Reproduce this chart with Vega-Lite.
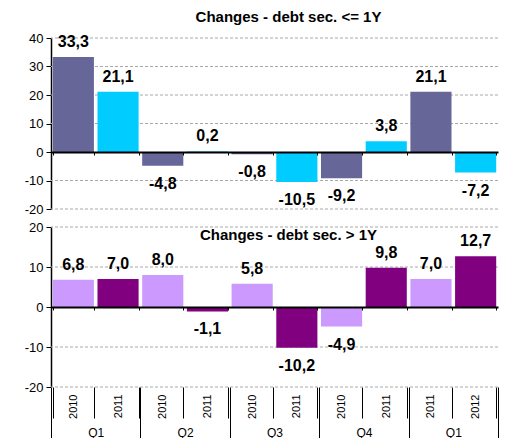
{
 "$schema": "https://vega.github.io/schema/vega-lite/v6.json",
 "background": "white",
 "padding": {"left": 24, "top": 10, "right": 14, "bottom": 0},
 "config": {
   "locale": {"number": {"decimal": ",", "thousands": ".", "grouping": [3], "currency": ["", ""], "minus": "-"}},
   "view": {"stroke": null},
   "font": "Liberation Sans",
   "axis": {"labelFont": "Liberation Sans", "labelColor": "#000", "labelFontSize": 13, "tickColor": "#000", "domainColor": "#000", "titleFont": "Liberation Sans"},
   "title": {"font": "Liberation Sans", "fontSize": 15, "fontWeight": "bold", "color": "#000"}
 },
 "datasets": {
  "d": [
   {"key": "2010-1", "q": "Q1 10/11", "series": "a", "le1y": 33.3, "gt1y": 6.8},
   {"key": "2011-1", "q": "Q1 10/11", "series": "b", "le1y": 21.1, "gt1y": 7.0},
   {"key": "2010-2", "q": "Q2 10/11", "series": "a", "le1y": -4.8, "gt1y": 8.0},
   {"key": "2011-2", "q": "Q2 10/11", "series": "b", "le1y": 0.2, "gt1y": -1.1},
   {"key": "2010-3", "q": "Q3 10/11", "series": "a", "le1y": -0.8, "gt1y": 5.8},
   {"key": "2011-3", "q": "Q3 10/11", "series": "b", "le1y": -10.5, "gt1y": -10.2},
   {"key": "2010-4", "q": "Q4 10/11", "series": "a", "le1y": -9.2, "gt1y": -4.9},
   {"key": "2011-4", "q": "Q4 10/11", "series": "b", "le1y": 3.8, "gt1y": 9.8},
   {"key": "2011-5", "q": "Q1 11/12", "series": "a", "le1y": 21.1, "gt1y": 7.0},
   {"key": "2012-5", "q": "Q1 11/12", "series": "b", "le1y": -7.2, "gt1y": 12.7}
  ],
  "g1": [{"v": -20}, {"v": -10}, {"v": 10}, {"v": 20}, {"v": 30}, {"v": 40}],
  "g2": [{"v": -20}, {"v": -10}, {"v": 10}, {"v": 20}]
 },
 "data": {"name": "d"},
 "spacing": 18,
 "bounds": "flush",
 "resolve": {"scale": {"x": "independent", "y": "independent", "color": "independent"}},
 "vconcat": [
  {
   "width": 447, "height": 171,
   "title": {"text": "Changes - debt sec. <= 1Y", "frame": "group", "baseline": "alphabetic", "offset": -5, "dx": 14},
   "layer": [
    {"data": {"name": "g1"},
     "mark": {"type": "rule", "color": "#a8a8a8", "strokeDash": [3, 2], "strokeWidth": 1},
     "encoding": {"y": {"field": "v", "type": "quantitative", "scale": {"domain": [-20, 40], "nice": false},
            "axis": {"values": [-20,-10,0,10,20,30,40], "title": null, "grid": false, "domainWidth": 1.5, "tickSize": 5, "labelPadding": 3}}}},
    {"encoding": {
      "x": {"field": "key", "type": "nominal", "sort": null,
            "scale": {"domain": ["2010-1","2011-1","2010-2","2011-2","2010-3","2011-3","2010-4","2011-4","2011-5","2012-5"], "paddingInner": 0.08, "paddingOuter": 0.04},
            "axis": {"orient": "bottom", "offset": -57, "labels": false, "title": null, "domainWidth": 2, "tickBand": "extent", "tickSize": 3, "grid": false, "zindex": 1}},
      "y": {"field": "le1y", "type": "quantitative", "scale": {"domain": [-20, 40], "nice": false},
            "axis": {"values": [-20,-10,0,10,20,30,40], "title": null, "grid": false, "domainWidth": 1.5, "tickSize": 5, "labelPadding": 3}}
     },
     "layer": [
      {"mark": {"type": "bar"}, "encoding": {
        "color": {"field": "series", "type": "nominal", "scale": {"domain": ["a","b"], "range": ["#666699","#00CCFF"]}, "legend": null}
      }},
      {"transform": [{"filter": "datum.le1y >= 0"}],
       "mark": {"type": "text", "fontWeight": "bold", "fontSize": 16, "baseline": "alphabetic", "dy": -10, "color": "#000"},
       "encoding": {"text": {"field": "le1y", "type": "quantitative", "format": ".1f"}}},
      {"transform": [{"filter": "datum.le1y < 0"}],
       "mark": {"type": "text", "fontWeight": "bold", "fontSize": 16, "baseline": "alphabetic", "dy": 23, "color": "#000"},
       "encoding": {"text": {"field": "le1y", "type": "quantitative", "format": ".1f"}}}
     ]
    }
   ]
  },
  {
   "width": 447, "height": 160,
   "title": {"text": "Changes - debt sec. > 1Y", "frame": "group", "baseline": "alphabetic", "offset": -34, "dx": 14},
   "resolve": {"scale": {"x": "independent"}, "axis": {"x": "independent"}},
   "layer": [
    {"data": {"name": "g2"},
     "mark": {"type": "rule", "color": "#a8a8a8", "strokeDash": [3, 2], "strokeWidth": 1},
     "encoding": {"y": {"field": "v", "type": "quantitative", "scale": {"domain": [-20, 20], "nice": false},
            "axis": {"values": [-20,-10,0,10,20], "title": null, "grid": false, "domainWidth": 1.5, "tickSize": 5, "labelPadding": 3}}}},
    {"encoding": {
       "x": {"field": "key", "type": "nominal", "sort": null,
             "scale": {"domain": ["2010-1","2011-1","2010-2","2011-2","2010-3","2011-3","2010-4","2011-4","2011-5","2012-5"], "paddingInner": 0.08, "paddingOuter": 0.04},
             "axis": {"orient": "bottom", "offset": -80, "labels": false, "title": null, "domainWidth": 2, "tickBand": "extent", "tickSize": 3, "grid": false, "zindex": 1}},
       "y": {"field": "gt1y", "type": "quantitative", "scale": {"domain": [-20, 20], "nice": false},
            "axis": {"values": [-20,-10,0,10,20], "title": null, "grid": false, "domainWidth": 1.5, "tickSize": 5, "labelPadding": 3}}
     },
     "layer": [
      {"mark": {"type": "bar"}, "encoding": {
        "color": {"field": "series", "type": "nominal", "scale": {"domain": ["a","b"], "range": ["#CC99FF","#800080"]}, "legend": null}
      }},
      {"transform": [{"filter": "datum.gt1y >= 0"}],
       "mark": {"type": "text", "fontWeight": "bold", "fontSize": 16, "baseline": "alphabetic", "dy": -10, "color": "#000"},
       "encoding": {"text": {"field": "gt1y", "type": "quantitative", "format": ".1f"}}},
      {"transform": [{"filter": "datum.gt1y < 0"}],
       "mark": {"type": "text", "fontWeight": "bold", "fontSize": 16, "baseline": "alphabetic", "dy": 23, "color": "#000"},
       "encoding": {"text": {"field": "gt1y", "type": "quantitative", "format": ".1f"}}}
     ]
    },
    {"mark": {"type": "point", "opacity": 0}, "encoding": {
      "x": {"field": "key", "type": "nominal", "sort": null,
            "scale": {"domain": ["2010-1","2011-1","2010-2","2011-2","2010-3","2011-3","2010-4","2011-4","2011-5","2012-5"], "paddingInner": 0.08, "paddingOuter": 0.04},
            "axis": {"orient": "bottom", "offset": 0, "title": null, "domain": false, "tickBand": "extent", "tickSize": 31, "grid": false, "labelAngle": -90, "labelAlign": "right", "labelBaseline": "middle", "labelPadding": -24, "labelFontSize": 11, "labelExpr": "slice(datum.label, 0, 4)"}},
      "y": {"field": "gt1y", "type": "quantitative", "scale": {"domain": [-20, 20], "nice": false},
            "axis": {"values": [-20,-10,0,10,20], "title": null, "grid": false, "domainWidth": 1.5, "tickSize": 5, "labelPadding": 3}}
    }},
    {"mark": {"type": "point", "opacity": 0}, "encoding": {
      "x": {"field": "q", "type": "nominal", "sort": null,
            "scale": {"domain": ["Q1 10/11","Q2 10/11","Q3 10/11","Q4 10/11","Q1 11/12"], "paddingInner": 0, "paddingOuter": 0},
            "axis": {"orient": "bottom", "offset": 0, "title": null, "domain": false, "tickBand": "extent", "tickSize": 51, "grid": false, "labelAngle": 0, "labelPadding": -11, "labelFontSize": 12, "labelExpr": "slice(datum.label, 0, 2)"}},
      "y": {"field": "gt1y", "type": "quantitative", "scale": {"domain": [-20, 20], "nice": false},
            "axis": {"values": [-20,-10,0,10,20], "title": null, "grid": false, "domainWidth": 1.5, "tickSize": 5, "labelPadding": 3}}
    }}
   ]
  }
 ]
}
